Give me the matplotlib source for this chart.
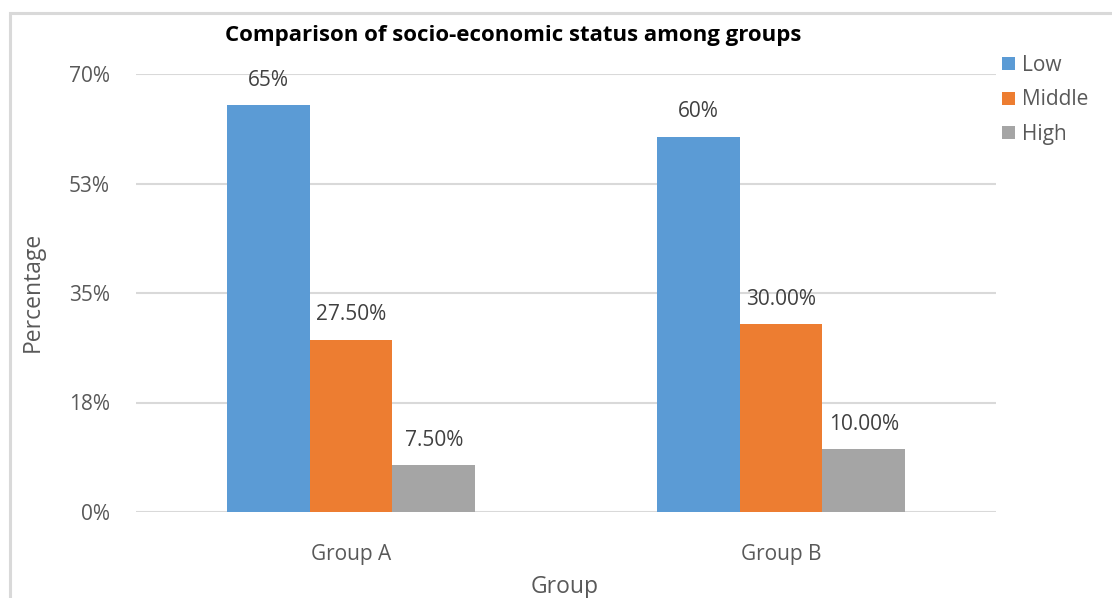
import matplotlib
matplotlib.use("Agg")
from matplotlib import pyplot as plt
import matplotlib.patches as mpatches
import numpy as np

plt.rcParams['font.family'] = ['Open Sans', 'DejaVu Sans']

groups = ["Group A", "Group B"]
levels = ["Low", "Middle", "High"]
low = [65, 60]
middle = [27.5, 30]
high = [7.5, 10]
value_labels = [["65%", "60%"], ["27.50%", "30.00%"], ["7.50%", "10.00%"]]
yticks = [0, 17.5, 35, 52.5, 70]
ytick_labels = ["0%", "18%", "35%", "53%", "70%"]

colors = ["#5B9BD5", "#ED7D31", "#A5A5A5"]
text_grey = "#595959"

fig = plt.figure(figsize=(11.12, 5.98), dpi=100)
ax = fig.add_axes([136/1112, 86/598, 860/1112, 438/598])

# light frame round the chart area
fig.patches.append(mpatches.Rectangle((10/1112, -0.1), 1.2, (598-13)/598 + 0.1,
                                      transform=fig.transFigure, fill=False,
                                      edgecolor="#d9d9d9", linewidth=2.2))

x = np.arange(len(groups))
width = 0.193
series = [low, middle, high]
for i, (vals, col) in enumerate(zip(series, colors)):
    pos = x + (i - 1) * width
    ax.bar(pos, vals, width, color=col, label=levels[i], zorder=3)
    for p, v, lab in zip(pos, vals, value_labels[i]):
        ax.annotate(lab, (p, v), xytext=(0, 25), textcoords="offset pixels",
                    ha="center", va="center", fontsize=15, color="#404040")

ax.set_xlim(-0.5, 1.5)
ax.set_ylim(0, 70)
ax.set_yticks(yticks)
ax.set_yticklabels(ytick_labels)
ax.set_xticks(x)
ax.set_xticklabels(groups)
ax.tick_params(axis="y", length=0, pad=19, labelsize=15, labelcolor=text_grey)
ax.tick_params(axis="x", length=0, pad=23, labelsize=15, labelcolor=text_grey)
ax.grid(axis="y", color="#d9d9d9", linewidth=1.5, zorder=0)
for s in ax.spines.values():
    s.set_visible(False)

fig.text(513/1112, 1 - 35/598, "Comparison of socio-economic status among groups",
         ha="center", va="center", fontsize=16, fontweight="bold", color="black")
fig.text(33/1112, 1 - 292/598, "Percentage", rotation=90, ha="center", va="center",
         fontsize=16.5, color=text_grey)
fig.text(565/1112, 1 - 587/598, "Group", ha="center", va="center",
         fontsize=16.5, color=text_grey)

ax.legend(loc="upper left", bbox_to_anchor=(998/1112, 1 - 51/598),
          bbox_transform=fig.transFigure, frameon=False, fontsize=15,
          labelcolor=text_grey, handlelength=0.6, handleheight=0.6,
          handletextpad=0.35, labelspacing=0.64, borderaxespad=0, borderpad=0.2)

fig.savefig("out.png", dpi=100)
